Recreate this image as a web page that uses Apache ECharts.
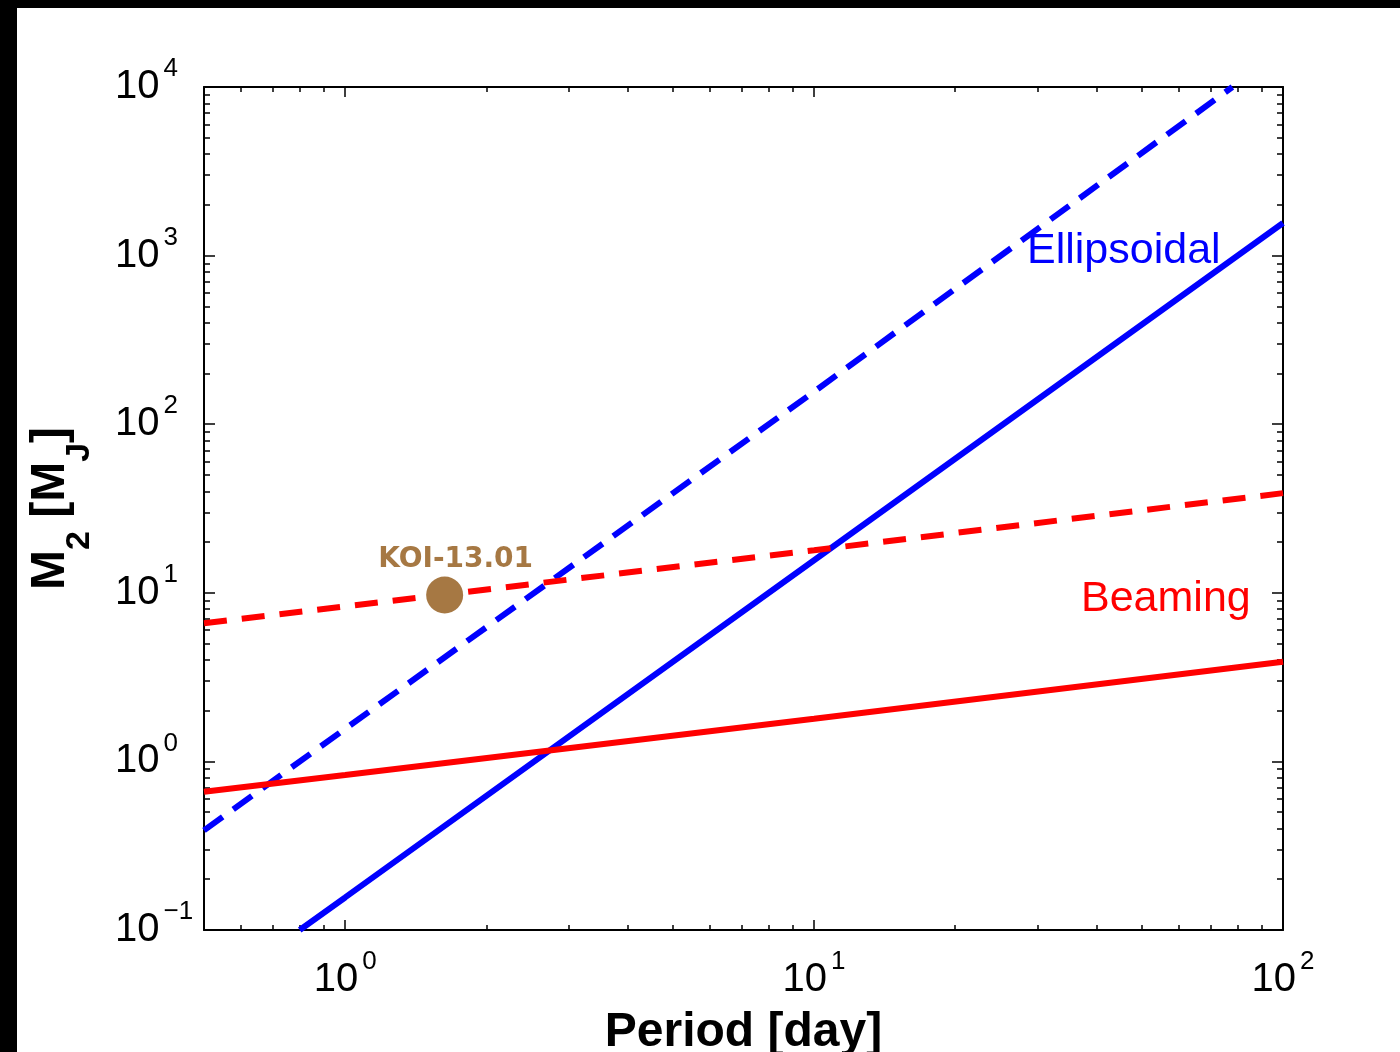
<!DOCTYPE html>
<html>
<head>
<meta charset="utf-8">
<script src="https://cdn.jsdelivr.net/npm/echarts@6/dist/echarts.min.js"></script>
<style>
html,body{margin:0;padding:0;background:#fff;}
#chart{width:1400px;height:1052px;}
</style>
</head>
<body>
<div id="chart"></div>
<script>
// ---- data ----
const periodBeaming = [0.5, 1, 10, 100];
const beamingSolid = [0.66, 0.83, 1.79, 3.9];
const beamingDashed = [6.6, 8.3, 17.9, 39];
const periodEllSolid = [0.8, 1, 10, 100];
const ellipsoidalSolid = [0.1, 0.156, 15.6, 1560];
const periodEllDashed = [0.5, 1, 10, 78];
const ellipsoidalDashed = [0.39, 1.56, 156, 10000];
const koiPeriod = [1.63];
const koiMass = [9.7];
const koiName = ['KOI-13.01'];
const xMajorTicks = [1, 10, 100];
const xMinorTicks = [0.6, 0.7, 0.8, 0.9, 2, 3, 4, 5, 6, 7, 8, 9, 20, 30, 40, 50, 60, 70, 80, 90];
const yMajorTicks = [0.1, 1, 10, 100, 1000, 10000];
const yMinorTicks = [0.2, 0.3, 0.4, 0.5, 0.6, 0.7, 0.8, 0.9,
  2, 3, 4, 5, 6, 7, 8, 9,
  20, 30, 40, 50, 60, 70, 80, 90,
  200, 300, 400, 500, 600, 700, 800, 900,
  2000, 3000, 4000, 5000, 6000, 7000, 8000, 9000];
const xTitle = 'Period [day]';
const labelEllipsoidal = 'Ellipsoidal';
const labelBeaming = 'Beaming';

const FONT = '"Liberation Sans", Arial, Helvetica, sans-serif';
const BLUE = '#0000ff', RED = '#ff0000', BROWN = '#a67843';

function pow10Label(v) {
  const e = Math.round(Math.log10(v));
  const s = e < 0 ? '\u2212' + (-e) : String(e);
  return '{b|10}{s|' + s + '}';
}
const richTick = {
  b: {fontSize: 40, fontFamily: FONT, color: '#000', lineHeight: 62, verticalAlign: 'middle'},
  s: {fontSize: 26, fontFamily: FONT, color: '#000', lineHeight: 26, padding: [0, 0, 0, 4], verticalAlign: 'top'}
};

function xAx(position, ticks, len, withLine, withLabel) {
  return {
    type: 'log', logBase: 10, min: 0.5, max: 100, position: position, gridIndex: 0,
    axisLine: {show: withLine, onZero: false, lineStyle: {color: '#000', width: 2}},
    axisTick: {show: true, inside: true, length: len, customValues: ticks, lineStyle: {color: '#000', width: 1.5}},
    axisLabel: withLabel ? {show: true, customValues: xMajorTicks, margin: 19, formatter: pow10Label, rich: richTick} : {show: false},
    splitLine: {show: false}, minorTick: {show: false}, minorSplitLine: {show: false},
    name: withLabel ? xTitle : '', nameLocation: 'middle', nameGap: 60,
    nameTextStyle: {fontSize: 48, fontWeight: 'bold', fontFamily: FONT, color: '#000', lineHeight: 56}
  };
}
function yAx(position, ticks, len, withLine, withLabel) {
  return {
    type: 'log', logBase: 10, min: 0.1, max: 10000, position: position, gridIndex: 0,
    axisLine: {show: withLine, onZero: false, lineStyle: {color: '#000', width: 2}},
    axisTick: {show: true, inside: true, length: len, customValues: ticks, lineStyle: {color: '#000', width: 1.5}},
    axisLabel: withLabel ? {show: true, customValues: yMajorTicks, margin: 89, align: 'left', formatter: pow10Label, rich: richTick} : {show: false},
    splitLine: {show: false}, minorTick: {show: false}, minorSplitLine: {show: false},
    name: withLabel ? '{m|M}{sub|2}{m| [M}{sub|J}{m|]}' : '', nameLocation: 'middle', nameGap: 107, nameRotate: 90,
    nameTextStyle: {
      rich: {
        m: {fontSize: 48, fontWeight: 'bold', fontFamily: FONT, color: '#000', lineHeight: 70, verticalAlign: 'top'},
        sub: {fontSize: 34, fontWeight: 'bold', fontFamily: FONT, color: '#000', lineHeight: 34, verticalAlign: 'bottom'}
      }
    }
  };
}

function pairs(xs, ys) { return xs.map((x, i) => [x, ys[i]]); }

const chart = echarts.init(document.getElementById('chart'), null, {renderer: 'canvas'});
const option = {
  backgroundColor: '#fff',
  animation: false,
  grid: {left: 204, top: 87, width: 1079, height: 843, containLabel: false, outerBoundsMode: 'none'},
  xAxis: [
    xAx('bottom', xMajorTicks, 10, true, true),
    xAx('bottom', xMinorTicks, 5, false, false),
    xAx('top', xMajorTicks, 10, true, false),
    xAx('top', xMinorTicks, 5, false, false)
  ],
  yAxis: [
    yAx('left', yMajorTicks, 11, true, true),
    yAx('left', yMinorTicks, 6, false, false),
    yAx('right', yMajorTicks, 11, true, false),
    yAx('right', yMinorTicks, 6, false, false)
  ],
  series: [
    {type: 'line', name: 'Ellipsoidal dashed', data: pairs(periodEllDashed, ellipsoidalDashed), showSymbol: false, symbol: 'none',
      lineStyle: {color: BLUE, width: 6, type: [23, 13], cap: 'butt'}, z: 3},
    {type: 'line', name: 'Ellipsoidal', data: pairs(periodEllSolid, ellipsoidalSolid), showSymbol: false, symbol: 'none',
      lineStyle: {color: BLUE, width: 6}, z: 3},
    {type: 'line', name: 'Beaming dashed', data: pairs(periodBeaming, beamingDashed), showSymbol: false, symbol: 'none',
      lineStyle: {color: RED, width: 6, type: [23, 15], cap: 'butt'}, z: 4},
    {type: 'line', name: 'Beaming', data: pairs(periodBeaming, beamingSolid), showSymbol: false, symbol: 'none',
      lineStyle: {color: RED, width: 6}, z: 4},
    {type: 'scatter', name: koiName[0], data: koiPeriod.map((p, i) => ({value: [p, koiMass[i]], name: koiName[i]})),
      symbol: 'circle', symbolSize: 37, itemStyle: {color: BROWN, opacity: 1}, z: 6,
      label: {show: true, position: 'top', distance: 3, offset: [11, 0], formatter: '{b}',
        fontFamily: '"DejaVu Sans", sans-serif', fontWeight: 'bold', fontSize: 28, color: BROWN}}
  ],
  graphic: [
    {type: 'text', left: 1027, top: 230, style: {text: labelEllipsoidal, fill: BLUE, font: '43px ' + FONT}, z: 10},
    {type: 'text', left: 1081, top: 578, style: {text: labelBeaming, fill: RED, font: '43px ' + FONT}, z: 10},
    {type: 'rect', left: 0, top: 0, shape: {width: 17, height: 1052}, style: {fill: '#000'}, z: 100},
    {type: 'rect', left: 0, top: 0, shape: {width: 1400, height: 8}, style: {fill: '#000'}, z: 100}
  ]
};
chart.setOption(option);
</script>
</body>
</html>
